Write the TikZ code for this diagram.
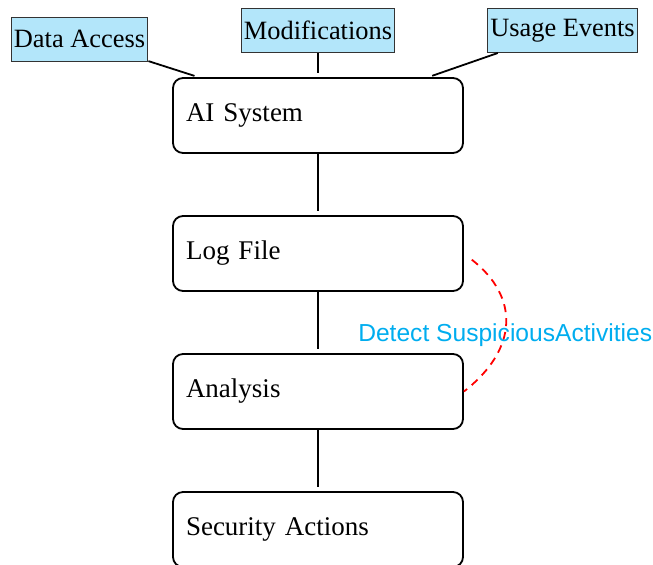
\documentclass[tikz,border=0pt]{standalone}
\usepackage{fontspec}
\setmainfont{Liberation Serif}
\newfontfamily\labelfont{Liberation Sans}
\usepackage{tikz}
\usetikzlibrary{arrows}

\tikzset{
  stage/.style={draw, rounded corners=5pt, line width=0.9pt,
                minimum height=37.5pt, text width=132pt, inner xsep=6.5pt,
                align=left, font=\fontsize{13.5}{16}\selectfont},
  source/.style={draw=black!80, fill=cyan!30, line width=0.5pt,
                 inner xsep=1.4pt, minimum height=22pt,
                 font=\fontsize{13.2}{15}\selectfont}
}

\begin{document}
\begin{tikzpicture}[-,
            node distance=69pt,
            link/.style={line width=0.9pt, shorten >=2pt},
            watch/.style={red, line width=0.9pt, dash pattern=on 4pt off 3pt,
                          bend left=52, looseness=1.3, shorten <=5pt}]

    \useasboundingbox (0,0) rectangle (326.5pt,-282pt);

    \node[stage]  (ai)       at (159pt,-57.75pt) {AI System};
    \node[stage]  (log)      [below of=ai]       {Log File};
    \node[stage]  (analysis) [below of=log]      {Analysis};
    \node[stage]  (security) [below of=analysis] {Security Actions};

    \node[source] (mods)   [above of=ai, node distance=42.5pt]                     {Modifications};
    \node[source] (access) [above of=ai, node distance=38.25pt, xshift=-119.25pt] {Data Access};
    \node[source] (usage)  [above of=ai, node distance=42.5pt, xshift=122.25pt]   {Usage Events};

    \path[link] (ai)       edge (log)
                (log)      edge (analysis)
                (analysis) edge (security)
                (access)   edge (ai)
                (mods)     edge (ai)
                (usage)    edge (ai);

    \path (log.east) edge [watch]
              node [pos=0.5, yshift=-6.5pt, text=cyan,
                    font=\labelfont\fontsize{12.3}{14}\selectfont]
              {Detect SuspiciousActivities}
          (analysis.east);

\end{tikzpicture}
\end{document}
